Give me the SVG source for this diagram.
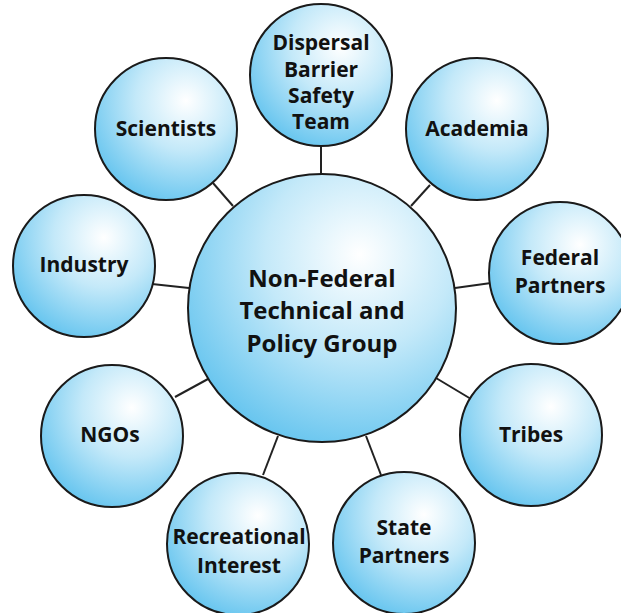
<svg xmlns="http://www.w3.org/2000/svg" width="621" height="613" viewBox="0 0 621 613">
<defs>
<radialGradient id="g" cx="0.64" cy="0.3" fx="0.64" fy="0.3" r="0.78">
<stop offset="0" stop-color="#ffffff"/>
<stop offset="0.45" stop-color="#c4e9f9"/>
<stop offset="1" stop-color="#5fc2ee"/>
</radialGradient>
<style>
.c{fill:url(#g);stroke:#1a1a1a;stroke-width:2}
.t{font-family:"Open Sans","Noto Sans",sans-serif;font-weight:700;font-size:21px;fill:#111;text-anchor:middle}
.big{font-size:24px}
.l{stroke:#222;stroke-width:2;fill:none}
</style>
</defs>
<rect width="621" height="613" fill="#fff"/>
<g id="connectors">
<line class="l" x1="321" y1="146" x2="321" y2="175"/>
<line class="l" x1="213" y1="183" x2="233" y2="206"/>
<line class="l" x1="430" y1="185" x2="411" y2="206"/>
<line class="l" x1="152" y1="284" x2="189" y2="288"/>
<line class="l" x1="455" y1="288" x2="491" y2="283"/>
<line class="l" x1="175" y1="397" x2="208" y2="379"/>
<line class="l" x1="436" y1="378" x2="471" y2="399"/>
<line class="l" x1="263" y1="475" x2="278" y2="436"/>
<line class="l" x1="366" y1="436" x2="381" y2="475"/>
</g>
<g id="center">
<circle class="c" cx="322" cy="308" r="134"/>
<text class="t big" x="322" y="287">Non-Federal</text>
<text class="t big" x="322" y="319">Technical and</text>
<text class="t big" x="322" y="352">Policy Group</text>
</g>
<g id="dispersal">
<circle class="c" cx="321" cy="75" r="71"/>
<text class="t" x="321" y="50">Dispersal</text>
<text class="t" x="321" y="77">Barrier</text>
<text class="t" x="321" y="103">Safety</text>
<text class="t" x="321" y="129">Team</text>
</g>
<g id="scientists">
<circle class="c" cx="166" cy="129" r="71"/>
<text class="t" x="166" y="136">Scientists</text>
</g>
<g id="academia">
<circle class="c" cx="477" cy="129" r="71"/>
<text class="t" x="477" y="136">Academia</text>
</g>
<g id="industry">
<circle class="c" cx="84" cy="266" r="71"/>
<text class="t" x="84" y="272">Industry</text>
</g>
<g id="federal">
<circle class="c" cx="560" cy="273" r="71"/>
<text class="t" x="560" y="265">Federal</text>
<text class="t" x="560" y="293">Partners</text>
</g>
<g id="ngos">
<circle class="c" cx="112" cy="436" r="71"/>
<text class="t" x="110" y="442">NGOs</text>
</g>
<g id="tribes">
<circle class="c" cx="531" cy="435" r="71"/>
<text class="t" x="531" y="442">Tribes</text>
</g>
<g id="recreational">
<circle class="c" cx="238" cy="544" r="71"/>
<text class="t" x="239" y="544">Recreational</text>
<text class="t" x="239" y="573">Interest</text>
</g>
<g id="state">
<circle class="c" cx="404" cy="543" r="71"/>
<text class="t" x="404" y="535">State</text>
<text class="t" x="404" y="563">Partners</text>
</g>
</svg>
